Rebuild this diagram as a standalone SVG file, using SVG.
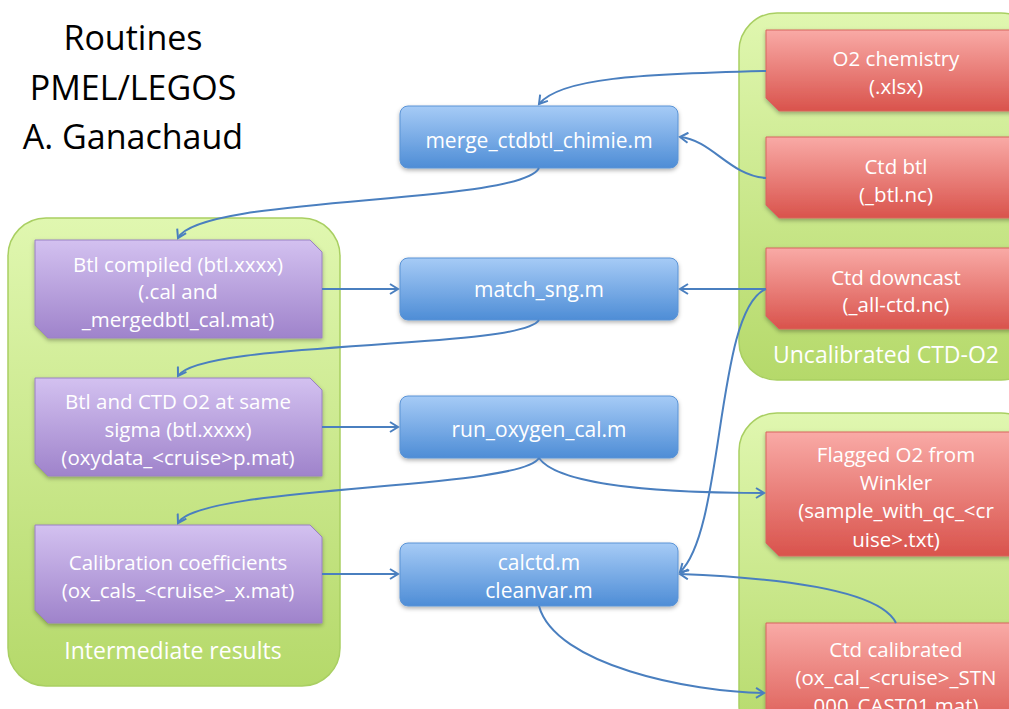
<svg xmlns="http://www.w3.org/2000/svg" width="1009" height="709" viewBox="0 0 1009 709">
<defs>
<linearGradient id="gGreen" x1="0" y1="0" x2="0" y2="1"><stop offset="0" stop-color="#e0f7b0"/><stop offset="1" stop-color="#b5d96a"/></linearGradient>
<linearGradient id="gPurple" x1="0" y1="0" x2="0" y2="1"><stop offset="0" stop-color="#d3c1f0"/><stop offset="1" stop-color="#9f83cb"/></linearGradient>
<linearGradient id="gBlue" x1="0" y1="0" x2="0" y2="1"><stop offset="0" stop-color="#a6cbf6"/><stop offset="1" stop-color="#4e8dd6"/></linearGradient>
<linearGradient id="gRed" x1="0" y1="0" x2="0" y2="1"><stop offset="0" stop-color="#f9aaa6"/><stop offset="1" stop-color="#d9534c"/></linearGradient>
<filter id="sh" x="-10%" y="-10%" width="120%" height="130%"><feDropShadow dx="0" dy="2" stdDeviation="2" flood-color="#000" flood-opacity="0.3"/></filter>
<marker id="arr" markerWidth="12" markerHeight="12" refX="9" refY="6" orient="auto" markerUnits="userSpaceOnUse"><path d="M1,1 L9,6 L1,11" fill="none" stroke="#4a7fbf" stroke-width="2"/></marker>
</defs>
<style>
.cont{fill:url(#gGreen);stroke:#a9cf62;stroke-width:1.5}
.pur{fill:url(#gPurple);stroke:#9a80c4;stroke-width:1;filter:url(#sh)}
.blu{fill:url(#gBlue);stroke:#5a93d6;stroke-width:1;filter:url(#sh)}
.red{fill:url(#gRed);stroke:#d8645e;stroke-width:1;filter:url(#sh)}
.t{font-family:"Open Sans","DejaVu Sans",sans-serif;fill:#fff;text-anchor:middle;font-size:20.5px}
.tb{font-family:"Open Sans","DejaVu Sans",sans-serif;fill:#fff;text-anchor:middle;font-size:21px}
.lab{font-family:"Open Sans","DejaVu Sans",sans-serif;fill:#fff;text-anchor:middle;font-size:23px}
.title{font-family:"Open Sans","DejaVu Sans",sans-serif;fill:#000;text-anchor:middle;font-size:34px}
.c{fill:none;stroke:#4a7fbf;stroke-width:2;marker-end:url(#arr)}
</style>
<rect width="1009" height="709" fill="#fff"/>
<g id="title">
<text class="title" x="133" y="50">Routines</text>
<text class="title" x="133" y="100">PMEL/LEGOS</text>
<text class="title" x="133" y="149">A. Ganachaud</text>
</g>
<g id="intermediate">
<rect class="cont" x="8" y="218" width="332" height="468" rx="38"/>
<text class="lab" x="173" y="659">Intermediate results</text>
</g>
<g id="uncalibrated">
<rect class="cont" x="739" y="13" width="300" height="367" rx="38"/>
<text class="lab" x="886" y="363">Uncalibrated CTD-O2</text>
</g>
<g id="calibrated">
<rect class="cont" x="739" y="413" width="300" height="330" rx="38"/>
</g>
<g id="btl_compiled">
<path class="pur" d="M35,240 H310 L322,252 V338 H48 L35,325 Z"/>
<text class="t" x="178" y="272">Btl compiled (btl.xxxx)</text>
<text class="t" x="178" y="299">(.cal and</text>
<text class="t" x="178" y="327">_mergedbtl_cal.mat)</text>
</g>
<g id="btl_ctd_o2">
<path class="pur" d="M35,378 H310 L322,390 V476 H48 L35,463 Z"/>
<text class="t" x="178" y="409">Btl and CTD O2 at same</text>
<text class="t" x="178" y="437">sigma (btl.xxxx)</text>
<text class="t" x="178" y="465">(oxydata_&lt;cruise&gt;p.mat)</text>
</g>
<g id="cal_coef">
<path class="pur" d="M35,525 H310 L322,537 V623 H48 L35,610 Z"/>
<text class="t" x="178" y="570">Calibration coefficients</text>
<text class="t" x="178" y="598">(ox_cals_&lt;cruise&gt;_x.mat)</text>
</g>
<g id="merge">
<rect class="blu" x="400" y="106" width="278" height="62" rx="8"/>
<text class="tb" x="539" y="148">merge_ctdbtl_chimie.m</text>
</g>
<g id="match">
<rect class="blu" x="400" y="258" width="278" height="62" rx="8"/>
<text class="tb" x="539" y="297">match_sng.m</text>
</g>
<g id="runoxy">
<rect class="blu" x="400" y="396" width="278" height="62" rx="8"/>
<text class="tb" x="539" y="437">run_oxygen_cal.m</text>
</g>
<g id="calctd">
<rect class="blu" x="400" y="543" width="278" height="63" rx="8"/>
<text class="tb" x="539" y="570">calctd.m</text>
<text class="tb" x="539" y="598">cleanvar.m</text>
</g>
<g id="o2chem">
<path class="red" d="M766,30 H1014 L1026,42 V111 H779 L766,98 Z"/>
<text class="t" x="896" y="66">O2 chemistry</text>
<text class="t" x="896" y="94">(.xlsx)</text>
</g>
<g id="ctdbtl">
<path class="red" d="M766,137 H1014 L1026,149 V218 H779 L766,205 Z"/>
<text class="t" x="896" y="174">Ctd btl</text>
<text class="t" x="896" y="202">(_btl.nc)</text>
</g>
<g id="downcast">
<path class="red" d="M766,248 H1014 L1026,260 V329 H779 L766,316 Z"/>
<text class="t" x="896" y="285">Ctd downcast</text>
<text class="t" x="896" y="312">(_all-ctd.nc)</text>
</g>
<g id="flagged">
<path class="red" d="M766,432 H1014 L1026,444 V556 H779 L766,543 Z"/>
<text class="t" x="896" y="462">Flagged O2 from</text>
<text class="t" x="896" y="490">Winkler</text>
<text class="t" x="896" y="518">(sample_with_qc_&lt;cr</text>
<text class="t" x="896" y="547">uise&gt;.txt)</text>
</g>
<g id="ctdcal">
<path class="red" d="M766,623 H1014 L1026,635 V740 H779 L766,727 Z"/>
<text class="t" x="896" y="657">Ctd calibrated</text>
<text class="t" x="896" y="685">(ox_cal_&lt;cruise&gt;_STN</text>
<text class="t" x="896" y="713">000_CAST01.mat)</text>
</g>
<g id="connectors">
<path class="c" d="M766,71 C 640,74 560,78 539,104"/>
<path class="c" d="M766,178 C 730,176 712,140 680,137"/>
<path class="c" d="M539,168 C 520,205 200,195 178,238"/>
<path class="c" d="M322,289 H398"/>
<path class="c" d="M766,289 H680"/>
<path class="c" d="M539,320 C 520,350 200,340 178,376"/>
<path class="c" d="M322,427 H398"/>
<path class="c" d="M539,458 C 520,490 200,485 178,523"/>
<path class="c" d="M539,458 C 560,488 680,493 764,493"/>
<path class="c" d="M322,574 H398"/>
<path class="c" d="M766,289 C 715,310 725,530 680,572"/>
<path class="c" d="M896,623 C 880,590 780,578 680,574"/>
<path class="c" d="M539,606 C 555,665 690,692 764,693"/>
</g>
</svg>
